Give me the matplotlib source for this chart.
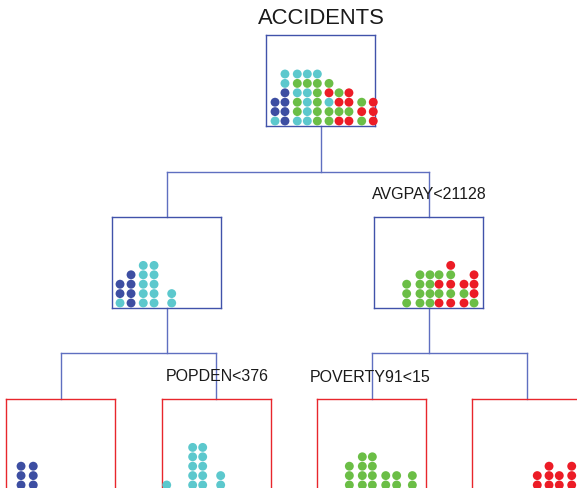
import matplotlib
matplotlib.use("Agg")
import matplotlib.pyplot as plt

plt.rcParams['font.family'] = ['Liberation Sans', 'DejaVu Sans']

# colour codes used in the stacks (bottom -> top)
palette = {"N": "#3D4EA2", "C": "#5CC8CD", "G": "#6BBE46", "R": "#EC1C26"}

# column positions (0-100 scale across each node) and dot stacks
root_x = [8.3, 17.4, 28.7, 37.9, 47.1, 57.8, 67.0, 76.1, 87.8, 98.4]
root_cols = ["CNN", "NNNNCC", "CGGCGC", "CCCCGC", "GGGGGC", "GGCRG", "RGRG", "RGRR", "GRG", "RRR"]

left_x = [7.1, 17.2, 28.4, 38.3, 54.5]
left_cols = ["CNN", "NNNN", "CCCCC", "CCCCC", "CC"]

right_x = [29.7, 41.9, 51.1, 59.4, 70.1, 82.3, 91.5]
right_cols = ["GGG", "GGGG", "GGGG", "RGRG", "RGRGR", "RGR", "GRRR"]

leaf1_x = [13.8, 25.0]
leaf1_cols = ["NNN", "NNN"]
leaf2_x = [4.6, 28.4, 37.6, 54.1]
leaf2_cols = ["C", "CCCCC", "CCCCC", "CC"]
leaf3_x = [29.4, 41.3, 50.5, 62.8, 72.8, 87.2]
leaf3_cols = ["GGG", "GGGG", "GGGG", "GG", "GG", "GG"]
leaf4_x = [59.6, 70.4, 79.8, 91.2]
leaf4_cols = ["RR", "RRR", "RR", "RRR"]

title = "ACCIDENTS"
splits = ["AVGPAY<21128", "POPDEN<376", "POVERTY91<15"]

W, H = 577, 489
BW, BH = 109, 91
node_edge = "#4152AA"
leaf_edge = "#E8262C"
line_col = "#5F6FC0"

fig = plt.figure(figsize=(W / 100, H / 100), dpi=100)
bg = fig.add_axes([0, 0, 1, 1])
bg.set_xlim(0, W)
bg.set_ylim(H, 0)
bg.axis("off")


def node(left, top, xs, cols, edge):
    ax = fig.add_axes([left / W, 1 - (top + BH) / H, BW / W, BH / H])
    ax.set_xlim(0, 100)
    ax.set_ylim(-5 / 9.4, (BH - 5) / 9.4)
    for x, stack in zip(xs, cols):
        for k, c in enumerate(stack):
            ax.scatter(x, k, s=41, color=palette[c], edgecolors="none", clip_on=False, zorder=3)
    ax.set_xticks([])
    ax.set_yticks([])
    ax.patch.set_alpha(0)
    for sp in ax.spines.values():
        sp.set_color(edge)
        sp.set_linewidth(1.0)
    return ax


# tree connectors
lw = 1.0
bg.plot([321, 321], [127, 172.5], color=line_col, lw=lw)
bg.plot([167, 428.8], [172.5, 172.5], color=line_col, lw=lw)
bg.plot([167, 167], [172.5, 218], color=line_col, lw=lw)
bg.plot([428.8, 428.8], [172.5, 218], color=line_col, lw=lw)
bg.plot([167, 167], [309, 354], color=line_col, lw=lw)
bg.plot([60.5, 216], [354, 354], color=line_col, lw=lw)
bg.plot([60.5, 60.5], [354, 400], color=line_col, lw=lw)
bg.plot([216, 216], [354, 400], color=line_col, lw=lw)
bg.plot([428.8, 428.8], [309, 354], color=line_col, lw=lw)
bg.plot([371.7, 527.3], [354, 354], color=line_col, lw=lw)
bg.plot([371.7, 371.7], [354, 400], color=line_col, lw=lw)
bg.plot([527.3, 527.3], [354, 400], color=line_col, lw=lw)

node(266, 36, root_x, root_cols, node_edge)
node(112.3, 218, left_x, left_cols, node_edge)
node(374.3, 218, right_x, right_cols, node_edge)
node(6, 400, leaf1_x, leaf1_cols, leaf_edge)
node(161.7, 400, leaf2_x, leaf2_cols, leaf_edge)
node(317.3, 400, leaf3_x, leaf3_cols, leaf_edge)
node(472.3, 400, leaf4_x, leaf4_cols, leaf_edge)

bg.text(321, 18.5, title, fontsize=15.8, ha="center", va="center", color="#1a1a1a")
bg.text(371.5, 194.5, splits[0], fontsize=11.5, ha="left", va="center", color="#1a1a1a")
bg.text(166, 376.5, splits[1], fontsize=11.5, ha="left", va="center", color="#1a1a1a")
bg.text(309.5, 377, splits[2], fontsize=11.5, ha="left", va="center", color="#1a1a1a")

fig.savefig("out.png", dpi=100)
